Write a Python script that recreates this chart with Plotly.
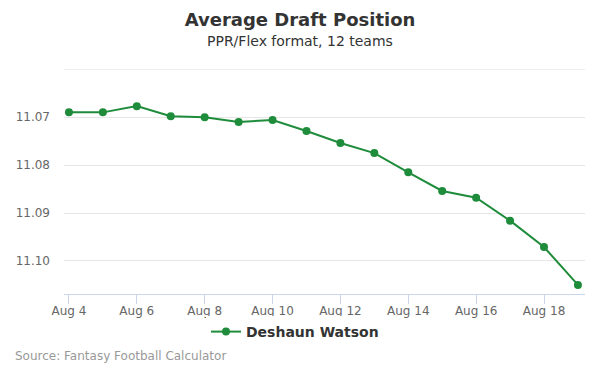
import plotly.graph_objects as go
import pandas as pd

dates = ["2019-08-%02d" % d for d in range(4, 20)]
adp = [11.0690, 11.0690, 11.0677, 11.0698, 11.0700, 11.0710, 11.0706, 11.0729,
       11.0754, 11.0775, 11.0815, 11.0854, 11.0868, 11.0916, 11.0971, 11.1050]
tick_dates = ["2019-08-%02d" % d for d in range(4, 20, 2)]
tick_labels = ["Aug %d" % d for d in range(4, 20, 2)]
y_ticks = [11.06, 11.07, 11.08, 11.09, 11.10]
y_labels = ["", "11.07", "11.08", "11.09", "11.10"]

color = "#1e8c3a"
font = "DejaVu Sans"

# page body adds an 8px offset; compensate
OFF = 8
W, H = 600, 375
ML, MR, MT, MB = 64 - OFF, 15 + OFF, 69 - OFF, 81 + OFF
PW, PH = W - ML - MR, H - MT - MB


def px_x(px):
    return (px - OFF - ML) / PW


def px_y(py):
    return (H - MB - (py - OFF)) / PH


x0 = pd.Timestamp(dates[0]) - pd.Timedelta(hours=3.5)
x1 = pd.Timestamp(dates[-1]) + pd.Timedelta(hours=5)

fig = go.Figure()
fig.add_trace(go.Scatter(
    x=dates, y=adp, mode="lines+markers", name="<b>Deshaun Watson</b>",
    line=dict(color=color, width=2),
    marker=dict(color=color, size=8),
))

fig.update_layout(
    width=W, height=H,
    paper_bgcolor="white", plot_bgcolor="white",
    margin=dict(l=ML, r=MR, t=MT, b=MB, autoexpand=False),
    font=dict(family=font, color="#666666", size=12),
    title=dict(
        text="<b>Average Draft Position</b>",
        x=(300 - OFF) / W, xanchor="center", y=1 - (20 - OFF) / H, yanchor="middle",
        font=dict(size=18, color="#333333", family=font),
    ),
    showlegend=True,
    legend=dict(
        orientation="h", x=(295 - OFF) / W, xref="container", xanchor="center",
        y=1 - (332 - OFF) / H, yref="container", yanchor="middle",
        font=dict(size=14, color="#333333", family=font),
        itemclick=False, itemwidth=30,
    ),
    shapes=[
        dict(type="line", xref="paper", x0=0, x1=1, yref="y",
             y0=y_ticks[0], y1=y_ticks[0], line=dict(color="#e6e6e6", width=1),
             layer="below"),
    ],
    annotations=[
        dict(text="PPR/Flex format, 12 teams", x=px_x(300), xref="paper", xanchor="center",
             y=px_y(41), yref="paper", yanchor="middle", showarrow=False,
             font=dict(size=14, color="#333333", family=font)),
        dict(text="Source: Fantasy Football Calculator", x=px_x(13), xref="paper",
             xanchor="left", y=px_y(356), yref="paper", yanchor="middle",
             showarrow=False, font=dict(size=12, color="#999999", family=font)),
    ],
)

fig.update_xaxes(
    type="date", range=[x0, x1], automargin=False,
    tickvals=tick_dates, ticktext=tick_labels,
    showgrid=False, showline=True, linecolor="#ccd6eb", linewidth=1,
    ticks="outside", ticklen=9, tickcolor="#ccd6eb",
    ticklabelstandoff=-3,
    tickfont=dict(size=12, color="#666666"),
    zeroline=False,
)
fig.update_yaxes(
    range=[11.1069, 11.05995], automargin=False,
    tickvals=y_ticks, ticktext=y_labels,
    showgrid=True, gridcolor="#e6e6e6", gridwidth=1,
    showline=False, zeroline=False, ticks="",
    ticklabelstandoff=13,
    tickfont=dict(size=12, color="#666666"),
)

fig.write_html("out.html")
